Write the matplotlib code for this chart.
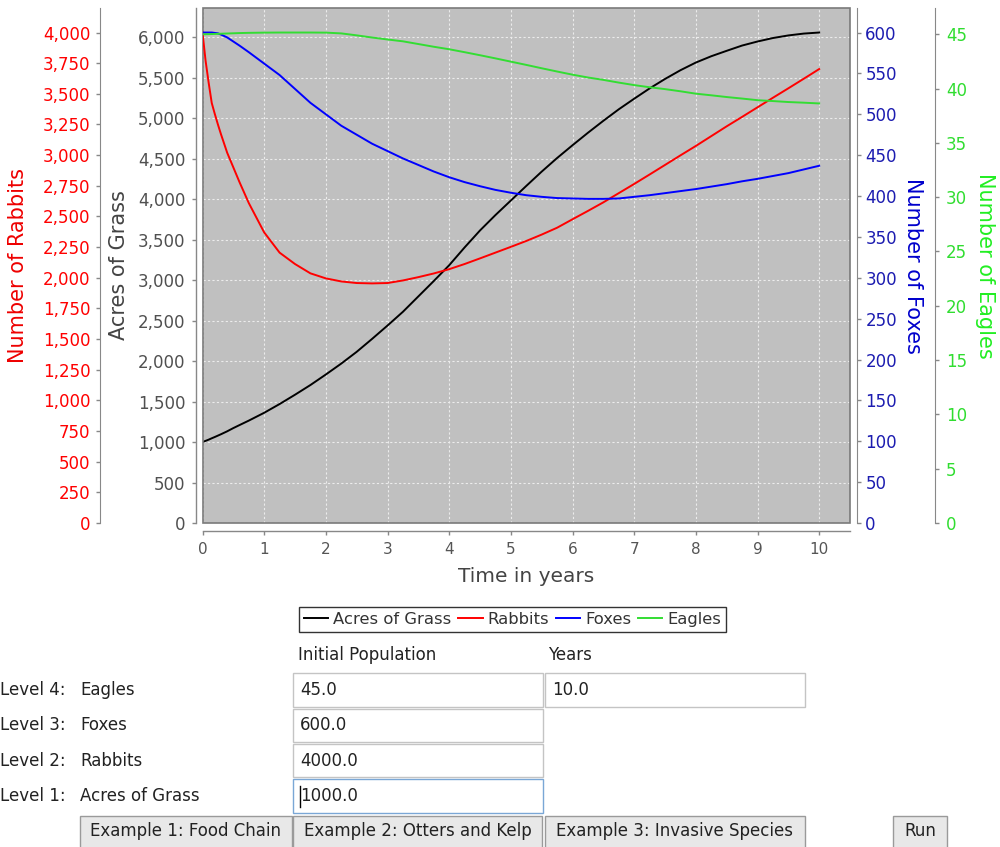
import matplotlib
matplotlib.use("Agg")
import matplotlib.pyplot as plt
from matplotlib.patches import Rectangle
from matplotlib.ticker import MultipleLocator, FuncFormatter

# Simulated food-chain populations over ten years
years = [0, 0.05, 0.1, 0.15, 0.2, 0.25, 0.3, 0.4, 0.5, 0.6, 0.75,
         1.0, 1.25, 1.5, 1.75, 2.0, 2.25, 2.5, 2.75, 3.0, 3.25, 3.5, 3.75, 4.0,
         4.25, 4.5, 4.75, 5.0, 5.25, 5.5, 5.75, 6.0, 6.25, 6.5, 6.75, 7.0,
         7.25, 7.5, 7.75, 8.0, 8.25, 8.5, 8.75, 9.0, 9.25, 9.5, 9.75, 10.0]
grass = [1000, 1015, 1030, 1047, 1063, 1080, 1097, 1133, 1173, 1210, 1265,
         1362, 1470, 1585, 1705, 1835, 1970, 2115, 2275, 2440, 2610, 2800, 2990, 3185,
         3405, 3615, 3805, 3985, 4165, 4342, 4510, 4668, 4822, 4970, 5112, 5243,
         5370, 5487, 5595, 5690, 5768, 5835, 5900, 5950, 5993, 6025, 6048, 6061]
rabbits = [4000, 3770, 3590, 3425, 3335, 3250, 3170, 3020, 2900, 2780, 2610,
           2370, 2205, 2112, 2036, 1995, 1970, 1957, 1954, 1957, 1978, 2005, 2035, 2070,
           2112, 2158, 2205, 2252, 2300, 2352, 2408, 2477, 2545, 2615, 2690, 2765,
           2842, 2920, 2998, 3075, 3155, 3235, 3312, 3390, 3468, 3545, 3623, 3702]
foxes = [600, 600, 600, 600, 599.5, 599, 597.5, 594, 589, 584, 576,
         562, 548, 531, 514, 500, 486, 475, 464, 455, 446, 438, 430, 423,
         417, 412, 407.5, 404, 401, 399, 397.5, 397, 396.5, 396.5, 397, 399,
         401, 403.5, 406, 408.5, 411.5, 414.5, 418, 421, 424.5, 428, 432.5, 437]
eagles = [45.0, 45.0, 45.01, 45.02, 45.03, 45.04, 45.05, 45.07, 45.09, 45.11, 45.13,
          45.15, 45.16, 45.16, 45.16, 45.15, 45.08, 44.9, 44.7, 44.52, 44.35, 44.1, 43.85, 43.62,
          43.35, 43.07, 42.78, 42.48, 42.18, 41.87, 41.57, 41.28, 41.02, 40.8, 40.55, 40.32,
          40.12, 39.95, 39.75, 39.53, 39.38, 39.22, 39.08, 38.93, 38.85, 38.76, 38.7, 38.63]

series_names = ["Acres of Grass", "Rabbits", "Foxes", "Eagles"]
axis_titles = ["Acres of Grass", "Number of Rabbits", "Number of Foxes", "Number of Eagles"]
level_labels = ["Level 4:", "Level 3:", "Level 2:", "Level 1:"]
level_species = ["Eagles", "Foxes", "Rabbits", "Acres of Grass"]
button_labels = ["Example 1: Food Chain", "Example 2: Otters and Kelp",
                 "Example 3: Invasive Species", "Run"]

W, H = 1000, 847
fig = plt.figure(figsize=(W / 100, H / 100), dpi=100)
fig.patch.set_facecolor("white")

# plot area in pixels
L, R, T, B = 202.5, 850.0, 8.0, 523.0


def axx(px):
    return (px - L) / (R - L)


ax = fig.add_axes([L / W, 1 - B / H, (R - L) / W, (B - T) / H])
ax.set_facecolor("#c0c0c0")
ax.set_xlim(0, 10.5)
ax.set_ylim(0, max(grass) * 1.05)

axis_gray = "#888888"
comma = FuncFormatter(lambda v, p: f"{int(round(v)):,}")

# grass axis on the left, slightly detached
for s in ["top", "right"]:
    ax.spines[s].set_visible(False)
ax.spines["left"].set_position(("axes", axx(196)))
ax.spines["bottom"].set_position(("axes", -(531 - B) / (B - T)))
for s in ["left", "bottom"]:
    ax.spines[s].set_color(axis_gray)
    ax.spines[s].set_linewidth(1.0)
ax.yaxis.set_major_locator(MultipleLocator(500))
ax.yaxis.set_major_formatter(comma)
ax.xaxis.set_major_locator(MultipleLocator(1))
ax.tick_params(axis="y", colors=axis_gray, labelcolor="#505050", labelsize=12,
               length=3, width=1, pad=4.5)
ax.tick_params(axis="x", colors=axis_gray, labelcolor="#555555", labelsize=11,
               length=3, width=1, pad=5)
ax.grid(True, color="#ececec", linestyle=(0, (2, 2)), linewidth=0.8)
ax.set_axisbelow(True)
ax.add_patch(Rectangle((0, 0), 1, 1, transform=ax.transAxes, fill=False,
                       edgecolor="#7a7a7a", linewidth=1.2, zorder=5, clip_on=False))
line_g, = ax.plot(years, grass, color="black", lw=1.4, zorder=3)

# rabbits axis, far left
axr = ax.twinx()
axr.set_ylim(0, max(rabbits) * 1.05)
for s in ["top", "right", "bottom"]:
    axr.spines[s].set_visible(False)
axr.spines["left"].set_visible(True)
axr.spines["left"].set_position(("axes", axx(100)))
axr.spines["left"].set_color(axis_gray)
axr.yaxis.tick_left()
axr.yaxis.set_major_locator(MultipleLocator(250))
axr.yaxis.set_major_formatter(comma)
axr.tick_params(axis="y", colors=axis_gray, labelcolor="#ff0000", labelsize=12,
                length=3, width=1, pad=4)
line_r, = axr.plot(years, rabbits, color="#ff0000", lw=1.4)

# foxes axis on the right
axf = ax.twinx()
axf.set_ylim(0, max(foxes) * 1.05)
for s in ["top", "left", "bottom"]:
    axf.spines[s].set_visible(False)
axf.spines["right"].set_position(("axes", axx(857)))
axf.spines["right"].set_color(axis_gray)
axf.yaxis.set_major_locator(MultipleLocator(50))
axf.tick_params(axis="y", colors=axis_gray, labelcolor="#1c1cb0", labelsize=12,
                length=3, width=1, pad=3)
line_f, = axf.plot(years, foxes, color="#0000ff", lw=1.4)

# eagles axis, far right
axe = ax.twinx()
axe.set_ylim(0, max(eagles) * 1.05)
for s in ["top", "left", "bottom"]:
    axe.spines[s].set_visible(False)
axe.spines["right"].set_position(("axes", axx(935)))
axe.spines["right"].set_color(axis_gray)
axe.yaxis.set_major_locator(MultipleLocator(5))
axe.tick_params(axis="y", colors=axis_gray, labelcolor="#30dd30", labelsize=12,
                length=3, width=1, pad=5)
line_e, = axe.plot(years, eagles, color="#33dd33", lw=1.4)

# overlay in pixel coordinates for titles and the input panel
gui = fig.add_axes([0, 0, 1, 1], zorder=-1)
gui.set_xlim(0, W)
gui.set_ylim(H, 0)
gui.axis("off")

mid_y = (T + B) / 2
gui.text(18, mid_y, axis_titles[1], rotation=90, ha="center", va="center",
         fontsize=15, color="#ee0000")
gui.text(119, mid_y, axis_titles[0], rotation=90, ha="center", va="center",
         fontsize=15, color="#444444")
gui.text(913, mid_y, axis_titles[2], rotation=270, ha="center", va="center",
         fontsize=15, color="#0000cc")
gui.text(985, mid_y, axis_titles[3], rotation=270, ha="center", va="center",
         fontsize=15, color="#22ee22")
gui.text(526, 576, "Time in years", ha="center", va="center",
         fontsize=14.5, color="#444444")

leg = fig.legend([line_g, line_r, line_f, line_e], series_names, loc="center",
                 bbox_to_anchor=(512.5 / W, 1 - 619.5 / H), ncol=4, frameon=True,
                 fancybox=False, edgecolor="black", fontsize=11.8, handlelength=1.5,
                 handletextpad=0.3, columnspacing=0.4, borderpad=0.3,
                 labelcolor="#333333")
leg.get_frame().set_linewidth(1.0)

# input panel
txt = dict(fontsize=12, color="#222222", va="center")
gui.text(298, 655, "Initial Population", ha="left", **txt)
gui.text(548, 655, "Years", ha="left", **txt)

initial_values = [eagles[0], foxes[0], rabbits[0], grass[0]]
field_rows = [(673, 34), (709, 33), (744, 33), (779, 34)]
for i, ((top, h), lab, sp, val) in enumerate(zip(field_rows, level_labels, level_species, initial_values)):
    yc = top + h / 2
    gui.text(0, yc, lab, ha="left", **txt)
    gui.text(80, yc, sp, ha="left", **txt)
    edge = "#7aa7d6" if i == 3 else "#c4c4c4"
    gui.add_patch(Rectangle((293, top), 250, h, facecolor="white", edgecolor=edge, lw=1))
    gui.text(300, yc, f"{val:.1f}", ha="left", **txt)

gui.add_patch(Rectangle((545, 673), 260, 34, facecolor="white", edgecolor="#c4c4c4", lw=1))
gui.text(552, 690, f"{years[-1]:.1f}", ha="left", **txt)
gui.plot([299.5, 299.5], [786, 807], color="black", lw=1)

buttons = [(80, 212), (293, 249), (545, 260), (893, 54)]
for (bx, bw), lab in zip(buttons, button_labels):
    gui.add_patch(Rectangle((bx, 816), bw, 32, facecolor="#e8e8e8", edgecolor="#9a9a9a", lw=1))
    gui.text(bx + bw / 2, 831, lab, ha="center", **txt)

fig.savefig("out.png", dpi=100)
